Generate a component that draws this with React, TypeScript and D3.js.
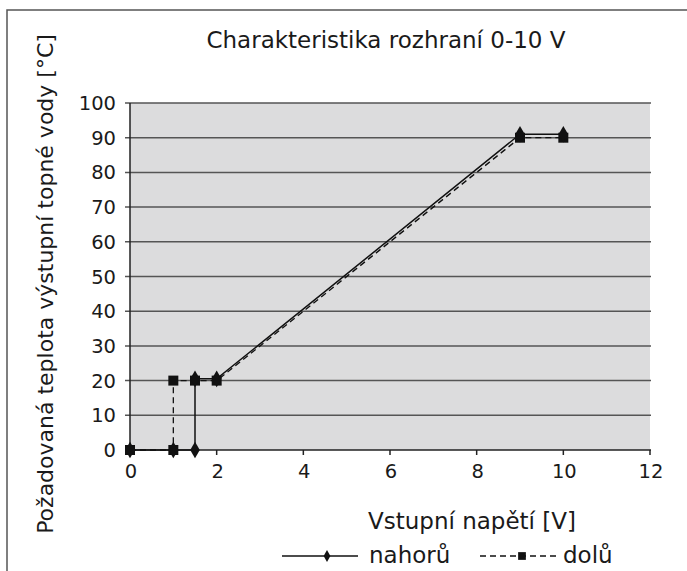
import * as d3 from "d3";

// nahorů (solid line, diamond markers)
const upX = [0, 1, 1.5, 1.5, 2, 9, 10];
const upY = [0, 0, 0, 20.5, 20.5, 91, 91];
// dolů (dashed line, square markers)
const downX = [0, 1, 1, 1.5, 2, 9, 10];
const downY = [0, 0, 20, 20, 20, 90, 90];

const xTicks = [0, 2, 4, 6, 8, 10, 12];
const yTicks = [0, 10, 20, 30, 40, 50, 60, 70, 80, 90, 100];

const title = "Charakteristika rozhraní 0-10 V";
const xTitle = "Vstupní napětí [V]";
const yTitle = "Požadovaná teplota výstupní topné vody [°C]";
const seriesNames = ["nahorů", "dolů"];

const W = 687;
const H = 571;
const font = "'DejaVu Sans', sans-serif";

const App = () => {
  const x = d3.scaleLinear().domain([0, 12]).range([130, 650]);
  const y = d3.scaleLinear().domain([0, 100]).range([450, 103]);

  const line = d3
    .line<[number, number]>()
    .x((d) => x(d[0]))
    .y((d) => y(d[1]));

  const up: [number, number][] = upX.map((v, i) => [v, upY[i]]);
  const down: [number, number][] = downX.map((v, i) => [v, downY[i]]);

  const square = d3.symbol(d3.symbolSquare, 100)()!;
  const diamond = d3.symbol(d3.symbolDiamond, 80)()!;

  return (
    <svg
      width={W}
      height={H}
      style={{ position: "absolute", left: 0, top: 0, background: "#fff" }}
    >
      {/* outer frame, open on right and bottom */}
      <path d={`M7,${H} V10 H${W}`} fill="none" stroke="#555" strokeWidth={1.5} />

      <text x={386} y={48} textAnchor="middle" fontFamily={font} fontSize={23} fill="#1a1a1a">
        {title}
      </text>

      {/* plot area */}
      <rect x={x(0)} y={y(100)} width={x(12) - x(0)} height={y(0) - y(100)} fill="#dcdcdd" />
      {yTicks.map((t) => (
        <line
          key={t}
          x1={x(0) - 5}
          x2={x(12) + 1}
          y1={y(t)}
          y2={y(t)}
          stroke={t === 0 ? "#222" : "#555"}
          strokeWidth={1.5}
        />
      ))}
      <line x1={x(0)} x2={x(0)} y1={y(100)} y2={y(0)} stroke="#222" strokeWidth={1.5} />
      {xTicks.map((t) => (
        <line key={t} x1={x(t)} x2={x(t)} y1={y(0)} y2={y(0) + 5} stroke="#222" strokeWidth={1.5} />
      ))}

      {yTicks.map((t) => (
        <text
          key={t}
          x={116}
          y={y(t) + 7}
          textAnchor="end"
          fontFamily={font}
          fontSize={19.5}
          fill="#1a1a1a"
        >
          {t}
        </text>
      ))}
      {xTicks.map((t) => (
        <text
          key={t}
          x={x(t) + 1}
          y={y(0) + 28}
          textAnchor="middle"
          fontFamily={font}
          fontSize={19.5}
          fill="#1a1a1a"
        >
          {t}
        </text>
      ))}

      <text
        transform={`translate(53,${284}) rotate(-90)`}
        textAnchor="middle"
        fontFamily={font}
        fontSize={22}
        fill="#1a1a1a"
      >
        {yTitle}
      </text>
      <text x={472} y={529} textAnchor="middle" fontFamily={font} fontSize={23} fill="#1a1a1a">
        {xTitle}
      </text>

      {/* series */}
      <path d={line(down)!} fill="none" stroke="#111" strokeWidth={1.3} strokeDasharray="6,4" />
      <path d={line(up)!} fill="none" stroke="#111" strokeWidth={1.5} />
      {down.map((d, i) => (
        <path key={"d" + i} d={square} transform={`translate(${x(d[0])},${y(d[1])})`} fill="#111" />
      ))}
      {up.map((d, i) => (
        <path key={"u" + i} d={diamond} transform={`translate(${x(d[0])},${y(d[1])})`} fill="#111" />
      ))}

      {/* legend */}
      <g>
        <line x1={282} x2={358} y1={556} y2={556} stroke="#111" strokeWidth={1.5} />
        <path d={d3.symbol(d3.symbolDiamond, 40)()!} transform="translate(327,556)" fill="#111" />
        <text x={369} y={563} fontFamily={font} fontSize={23} fill="#1a1a1a">
          {seriesNames[0]}
        </text>
        <line x1={480} x2={560} y1={556} y2={556} stroke="#111" strokeWidth={1.3} strokeDasharray="6,4" />
        <path d={d3.symbol(d3.symbolSquare, 60)()!} transform="translate(522,556)" fill="#111" />
        <text x={563} y={563} fontFamily={font} fontSize={23} fill="#1a1a1a">
          {seriesNames[1]}
        </text>
      </g>
    </svg>
  );
};

export default App;
